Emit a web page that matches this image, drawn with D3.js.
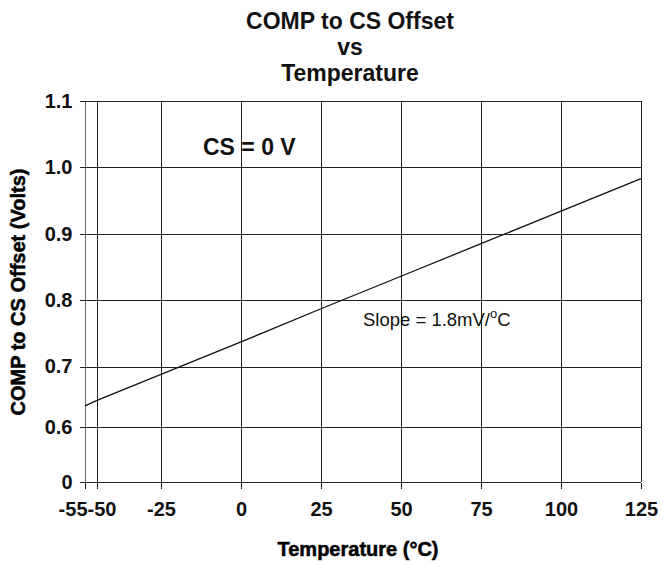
<!DOCTYPE html>
<html>
<head>
<meta charset="utf-8">
<script src="https://cdn.jsdelivr.net/npm/d3@7"></script>
<style>
  body { margin: 0; background: #fff; }
  svg { display: block; font-family: "Liberation Sans", Arial, Helvetica, sans-serif; }
</style>
</head>
<body>
<svg id="chart" width="663" height="563"></svg>
<script>
// data
const titleLines = ['COMP to CS Offset', 'vs', 'Temperature']
const tempTicks = [-55, -50, -25, 0, 25, 50, 75, 100, 125]
const offsetTicks = [0, 0.6, 0.7, 0.8, 0.9, 1.0, 1.1]
const temps = [-55, -50, -25, 0, 25, 50, 75, 100, 125]
const offsets = [0.635, 0.644, 0.687, 0.737, 0.787, 0.836, 0.885, 0.934, 0.983]

const svg = d3.select('#chart')

// both axes in the original are not uniform, so piecewise scales
const x = d3.scaleLinear()
  .domain([-55, -50, -25, 125])
  .range([85, 97, 161, 641])
const y = d3.scaleLinear()
  .domain([0, 0.6, 0.7, 1.1])
  .range([482, 427, 366.5, 101])

const plotLeft = x(-55)
const plotRight = x(125)
const plotTop = y(1.1)
const plotBottom = y(0)

// grid
const grid = svg.append('g').attr('stroke', '#222').attr('stroke-width', 1).attr('shape-rendering', 'crispEdges')
grid.selectAll('.vgrid')
  .data(tempTicks)
  .enter()
  .append('line')
  .attr('class', 'vgrid')
  .attr('x1', d => Math.round(x(d)) + 0.5)
  .attr('x2', d => Math.round(x(d)) + 0.5)
  .attr('y1', plotTop)
  .attr('y2', plotBottom)
  .attr('stroke', d => d === -55 ? '#666' : '#222')
grid.selectAll('.hgrid')
  .data(offsetTicks)
  .enter()
  .append('line')
  .attr('class', 'hgrid')
  .attr('x1', plotLeft)
  .attr('x2', plotRight)
  .attr('y1', d => Math.round(y(d)) + 0.5)
  .attr('y2', d => Math.round(y(d)) + 0.5)

// axes
const xAxis = svg.append('g')
  .attr('transform', `translate(0,${Math.round(plotBottom) + 0.5})`)
  .call(d3.axisBottom(x).tickValues(tempTicks).tickFormat(d => String(d)).tickSize(6).tickSizeOuter(0).tickPadding(13))
const yAxis = svg.append('g')
  .attr('transform', `translate(${Math.round(plotLeft) + 0.5},0)`)
  .call(d3.axisLeft(y).tickValues(offsetTicks).tickFormat(d => d === 0 ? '0' : d.toFixed(1)).tickSize(6).tickSizeOuter(0).tickPadding(7))

;[xAxis, yAxis].forEach(a => {
  a.select('.domain').remove()
  a.selectAll('line').attr('stroke', '#222').attr('shape-rendering', 'crispEdges')
  a.selectAll('text')
    .attr('fill', '#111')
    .style('font-size', '20px')
    .style('font-weight', 'bold')
    .style('font-family', '"Liberation Sans", Arial, sans-serif')
})
// -55 and -50 sit side by side
xAxis.selectAll('.tick text')
  .filter(d => d === -55)
  .attr('text-anchor', 'end')
  .attr('x', 2)
xAxis.selectAll('.tick text')
  .filter(d => d === -50)
  .attr('text-anchor', 'start')
  .attr('x', -10)

// the line
const line = d3.line()
  .x((d, i) => x(temps[i]))
  .y(d => y(d))
svg.append('path')
  .datum(offsets)
  .attr('d', line)
  .attr('fill', 'none')
  .attr('stroke', '#111')
  .attr('stroke-width', 1.3)

// title
svg.append('g')
  .selectAll('text')
  .data(titleLines)
  .enter()
  .append('text')
  .attr('x', 350)
  .attr('y', (d, i) => 29 + i * 26)
  .attr('text-anchor', 'middle')
  .attr('fill', '#111')
  .style('font-size', '23px')
  .style('font-weight', 'bold')
  .text(d => d)

// annotations
svg.append('text')
  .attr('x', 203)
  .attr('y', 155)
  .attr('fill', '#111')
  .style('font-size', '23px')
  .style('font-weight', 'bold')
  .text('CS = 0 V')

const slope = svg.append('text')
  .attr('x', 363)
  .attr('y', 326)
  .attr('fill', '#111')
  .style('font-size', '18.5px')
slope.append('tspan').text('Slope = 1.8mV/')
slope.append('tspan').attr('dy', -8).style('font-size', '13px').text('o')
slope.append('tspan').attr('dy', 8).text('C')

// axis titles
svg.append('text')
  .attr('x', 358)
  .attr('y', 556)
  .attr('text-anchor', 'middle')
  .attr('fill', '#000')
  .attr('stroke', '#000')
  .attr('stroke-width', 0.5)
  .style('font-size', '20px')
  .style('font-weight', 'bold')
  .text('Temperature (°C)')

svg.append('text')
  .attr('transform', 'translate(25,292) rotate(-90)')
  .attr('text-anchor', 'middle')
  .attr('fill', '#000')
  .attr('stroke', '#000')
  .attr('stroke-width', 0.5)
  .style('font-size', '20px')
  .style('font-weight', 'bold')
  .text('COMP to CS Offset (Volts)')
</script>
</body>
</html>
